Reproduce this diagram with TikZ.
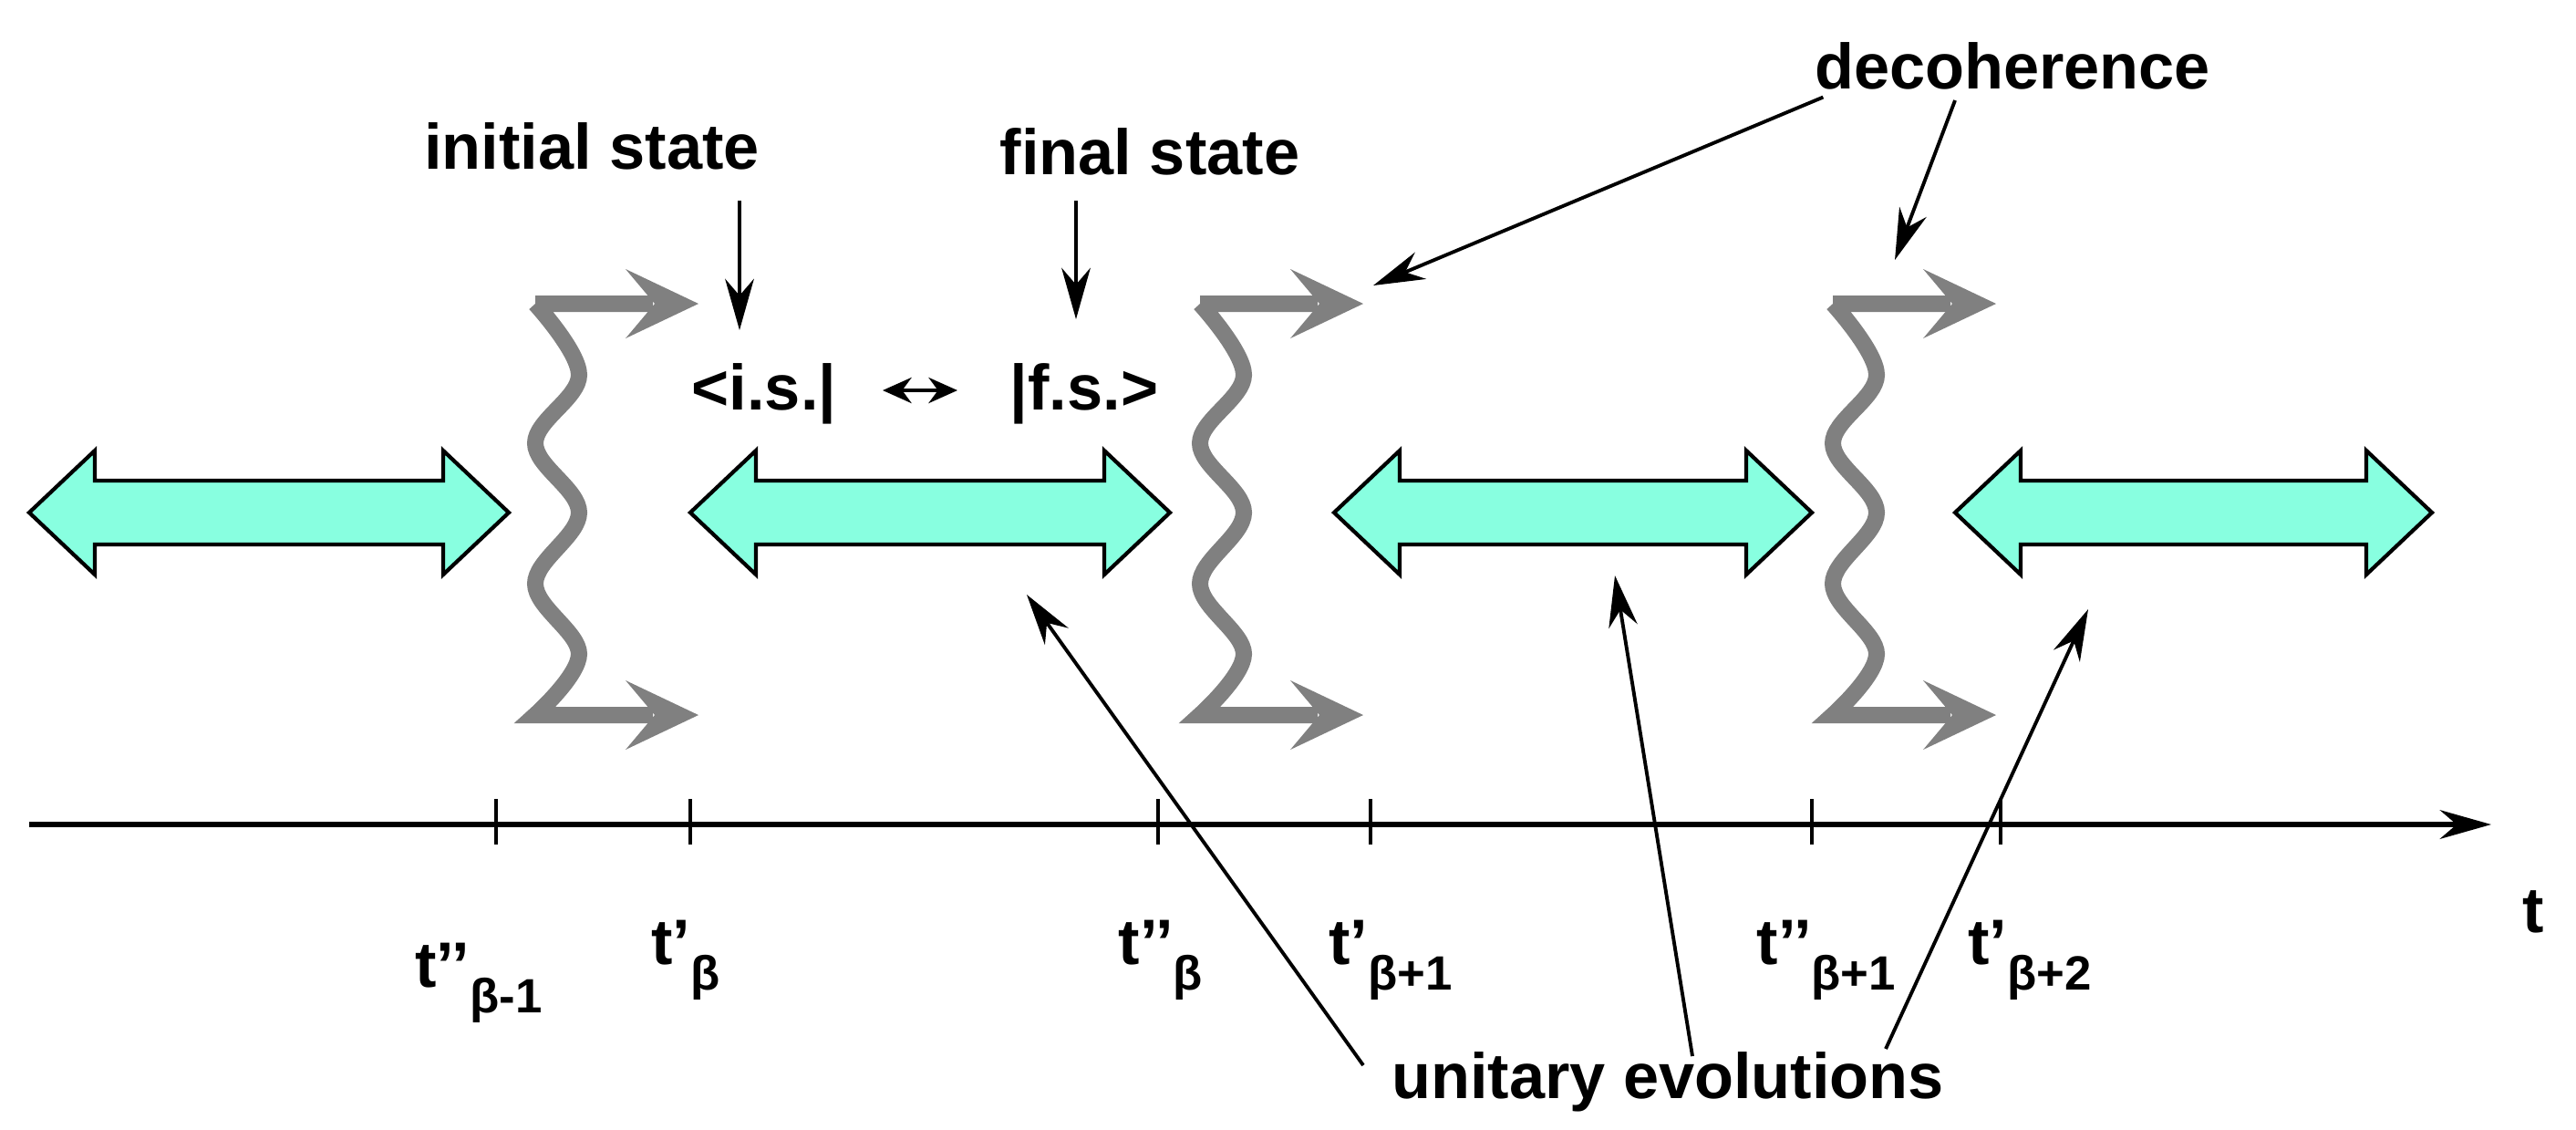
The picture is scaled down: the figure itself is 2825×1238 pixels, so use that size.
\documentclass[tikz,border=0pt]{standalone}
\usepackage{fontspec}
\setmainfont{Liberation Sans}
\usetikzlibrary{arrows.meta}
\definecolor{cyanf}{HTML}{88FFE0}
\definecolor{wgray}{HTML}{808080}
\begin{document}
\begin{tikzpicture}[x=0.01cm,y=-0.01cm,
  lbl/.style={font=\fontsize{20}{24}\selectfont\bfseries,inner sep=0pt},
  tl/.style={font=\fontsize{20}{24}\selectfont\bfseries,inner sep=0pt},
  ptr/.style={line width=1.1pt,-{Stealth[length=16pt,width=9pt]}},
  uarrow/.style={fill=cyanf,draw=black,line width=1.2pt,line join=miter},
  wave/.style={draw=wgray,line width=0.18cm,line cap=butt},
  chev/.style={fill=wgray,draw=none}]
\useasboundingbox (0,0) rectangle (2825,1238);
% unitary double arrows
\foreach \a/\b in {32/558,757/1283,1463/1987,2144/2667}{
  \draw[uarrow] (\a,562) -- (\a+72,494) -- (\a+72,527) -- (\b-72,527) -- (\b-72,494) -- (\b,562)
    -- (\b-72,630) -- (\b-72,597) -- (\a+72,597) -- (\a+72,630) -- cycle;
}
% decoherence wavy arrows
\foreach \x/\t in {595/766,1324/1495,2018/2189}{
  \draw[wave] (\t-50,333) -- (\x-8,333) plot[smooth,tension=0.6] coordinates{(\x-8,333)(\x+40,411)(\x-8,486)(\x+40,562)(\x-8,640)(\x+40,717)(\x-8,784)} -- (\t-50,784);
  \fill[chev] (\t,333) -- (\t-80,295) -- (\t-48,333) -- (\t-80,371) -- cycle;
  \fill[chev] (\t,784) -- (\t-80,746) -- (\t-48,784) -- (\t-80,822) -- cycle;
}
% axis
\coordinate (ax0) at (32,904);
\coordinate (ax1) at (2732,904);
\draw[line width=1.5pt,-{Stealth[length=16pt,width=9pt]}] (ax0) -- (ax1);
\node[tl] (tt) at (2778,1000) {t};
\foreach \x in {544,757,1270,1503,1987,2194}{
  \draw[line width=1pt] (\x,876) -- (\x,926);
}
\newcommand{\subl}[1]{\raisebox{-0.4em}{\fontsize{15}{17}\selectfont #1}}
\node[tl] (l1) at (525,1078) {t’’\subl{β\textbf{-1}}};
\node[tl] (l2) at (752,1053) {t’\subl{β}};
\node[tl] (l3) at (1273,1053) {t’’\subl{β}};
\node[tl] (l4) at (1525,1053) {t’\subl{β\textbf{+1}}};
\node[tl] (l5) at (2003,1053) {t’’\subl{β\textbf{+1}}};
\node[tl] (l6) at (2226,1053) {t’\subl{β\textbf{+2}}};
% labels
\node[lbl] (is) at (649,160) {initial state};
\node[lbl] (fs) at (1261,166) {final state};
\node[lbl] (dec) at (2207,72) {decoherence};
\node[lbl] (ue) at (1829,1186) {unitary evolutions};
\node[lbl] (bra) at (838,432) {<i.s.|};
\node[lbl] (ket) at (1189,432) {|f.s.>};
\coordinate (isA) at (811,220); \coordinate (isB) at (811,362);
\coordinate (fsA) at (1180,220); \coordinate (fsB) at (1180,350);
\draw[ptr] (isA) -- (isB);
\draw[ptr] (fsA) -- (fsB);
\coordinate (dA) at (968,428); \coordinate (dB) at (1050,428);
\draw[line width=1.1pt,{Stealth[length=9pt,width=8pt]}-{Stealth[length=9pt,width=8pt]}] (dA) -- (dB);
\coordinate (dc1) at (1506,313); \coordinate (dc2) at (2078,285);
\draw[ptr] (dec.south west)++(10,8) coordinate (ds1) (ds1) -- (dc1);
\draw[ptr] (2144,110) coordinate (ds2) -- (dc2);
\coordinate (u1) at (1126,652); \coordinate (u2) at (1771,631); \coordinate (u3) at (2290,668);
\draw[ptr] (1495,1168) coordinate (us1) -- (u1);
\draw[ptr] (1856,1158) coordinate (us2) -- (u2);
\draw[ptr] (2068,1150) coordinate (us3) -- (u3);
\end{tikzpicture}
\end{document}
